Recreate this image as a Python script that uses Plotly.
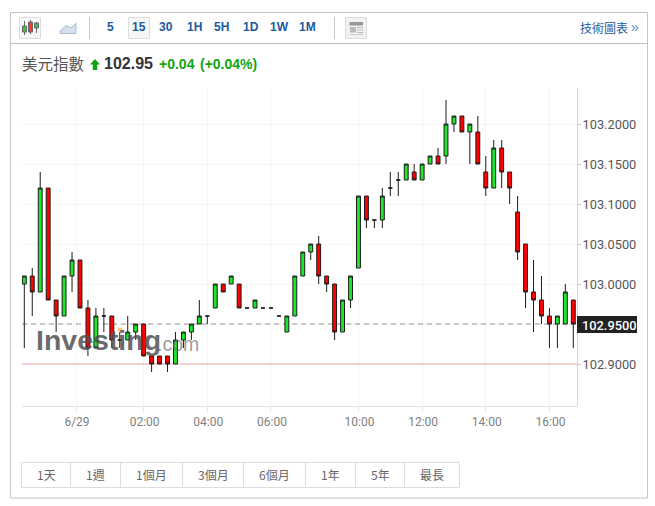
import plotly.graph_objects as go

W, H = 655, 506
L, R, T, B = 22, 577, 88, 406

bar_index = list(range(70))
opens = [103.00,103.01,102.99,103.12,102.98,102.96,103.01,103.03,102.97,102.92,
         102.96,102.96,102.93,102.93,102.94,102.95,102.91,102.91,102.91,102.90,
         102.93,102.94,102.95,102.96,102.97,103.00,103.00,103.00,102.97,102.97,
         102.97,102.97,102.96,102.94,102.96,103.01,103.04,103.05,103.01,103.00,
         102.94,102.98,103.02,103.11,103.08,103.08,103.12,103.13,103.13,103.14,
         103.13,103.15,103.16,103.16,103.20,103.21,103.19,103.19,103.14,103.12,
         103.17,103.14,103.09,103.05,102.99,102.98,102.96,102.95,102.95,102.98]
closes = [103.01,102.99,103.12,102.98,102.96,103.01,103.03,102.97,102.92,102.96,
          102.96,102.93,102.93,102.94,102.95,102.91,102.90,102.90,102.90,102.93,
          102.94,102.95,102.96,102.96,103.00,102.99,103.01,102.97,102.97,102.98,
          102.97,102.97,102.96,102.96,103.01,103.04,103.05,103.01,103.00,102.94,
          102.98,103.01,103.11,103.08,103.08,103.11,103.12,103.13,103.15,103.13,
          103.15,103.16,103.15,103.20,103.21,103.19,103.20,103.15,103.12,103.17,
          103.14,103.12,103.04,102.99,102.98,102.96,102.95,102.96,102.99,102.95]
highs = [103.01,103.02,103.14,103.12,102.98,103.01,103.04,103.03,102.98,102.97,
         102.97,102.96,102.94,102.96,102.95,102.95,102.91,102.91,102.91,102.94,
         102.94,102.95,102.98,102.96,103.00,103.00,103.01,103.00,102.97,102.98,
         102.97,102.97,102.96,102.96,103.01,103.04,103.05,103.06,103.01,103.00,
         102.98,103.01,103.11,103.11,103.08,103.12,103.14,103.14,103.15,103.15,
         103.15,103.16,103.17,103.23,103.21,103.21,103.20,103.21,103.16,103.18,
         103.18,103.14,103.11,103.05,103.03,103.01,102.97,102.96,103.00,102.98]
lows = [102.92,102.96,102.99,102.98,102.94,102.96,102.99,102.97,102.91,102.92,
        102.94,102.92,102.92,102.93,102.93,102.91,102.89,102.90,102.89,102.90,
        102.92,102.93,102.95,102.95,102.97,102.99,103.00,102.97,102.97,102.97,
        102.97,102.97,102.96,102.94,102.96,103.01,103.03,103.00,102.99,102.93,
        102.94,102.97,103.02,103.07,103.07,103.07,103.11,103.11,103.13,103.13,
        103.13,103.15,103.15,103.15,103.19,103.19,103.15,103.15,103.11,103.12,
        103.12,103.10,103.03,102.97,102.94,102.95,102.92,102.92,102.95,102.92]

x_tick_vals = [6.5, 15, 23, 31, 42, 50, 58, 66]
x_tick_labels = ["6/29", "02:00", "04:00", "06:00", "10:00", "12:00", "14:00", "16:00"]
y_tick_vals = [102.90, 102.95, 103.00, 103.05, 103.10, 103.15, 103.20]
y_tick_labels = ["102.9000", "", "103.0000", "103.0500", "103.1000", "103.1500", "103.2000"]
last_price = 102.95
low_line = 102.90
intervals = ["5", "15", "30", "1H", "5H", "1D", "1W", "1M"]
ranges = ["1天", "1週", "1個月", "3個月", "6個月", "1年", "5年", "最長"]

CJK = "Noto Sans CJK TC"
ARIAL = "Liberation Sans"
TICK = "Roboto"
BLUE = "#1b5a9f"
GRID = "rgba(110,110,150,0.07)"


def px(x):
    return x / W


def py(y):
    return 1 - y / H


shapes = []
annotations = []


def rect(x0, y0, x1, y1, fill=None, line=None, lw=1):
    shapes.append(dict(type="rect", xref="paper", yref="paper", x0=px(x0), x1=px(x1), y0=py(y0), y1=py(y1),
                       fillcolor=fill or "rgba(0,0,0,0)",
                       line=dict(color=line or "rgba(0,0,0,0)", width=lw if line else 0), layer="above"))


def seg(x0, y0, x1, y1, color, lw=1):
    shapes.append(dict(type="line", xref="paper", yref="paper", x0=px(x0), x1=px(x1), y0=py(y0), y1=py(y1),
                       line=dict(color=color, width=lw), layer="above"))


def poly(points, fill, line=None):
    d = "M" + " L".join(f"{px(a):.5f},{py(b):.5f}" for a, b in points) + " Z"
    shapes.append(dict(type="path", xref="paper", yref="paper", path=d, fillcolor=fill,
                       line=dict(color=line or "rgba(0,0,0,0)", width=1 if line else 0), layer="above"))


def text(x, y, s, size, color, font=ARIAL, anchor="center", bg=None):
    a = dict(xref="paper", yref="paper", x=px(x), y=py(y), text=s, showarrow=False,
             xanchor=anchor, yanchor="middle", borderpad=0, borderwidth=0,
             font=dict(family=font, size=size, color=color))
    if bg:
        a["bgcolor"] = bg
    annotations.append(a)


# outer frame and toolbar
rect(10.5, 12.5, 647.5, 498, None, "#c4c4c4")
seg(10.5, 43.5, 647.5, 43.5, "#bdbdbd")
seg(89.5, 17, 89.5, 39, "#cccccc")
seg(334.5, 17, 334.5, 39, "#cccccc")

# candle icon
rect(19.5, 17.5, 40.5, 38.5, "#f7f7f7", "#dddddd")
for cx, wt, wb, bt, bb, col in [(24.5, 21, 35, 26, 32, "#3fc24a"), (30.5, 20, 34, 22, 32, "#f03a3a"), (36.5, 22, 33, 23, 28, "#3fc24a")]:
    seg(cx, wt, cx, wb, "#666666")
    rect(cx - 2, bt, cx + 2, bb, col, "#666666")

# line icon
poly([(60, 31), (66, 25.5), (71, 28), (76, 23), (76, 33.5), (60, 33.5)], "#d5e0ee", "#a9bfd8")

# selected interval
rect(128.5, 17.5, 149.5, 38.5, "#f6f6f6", "#dddddd")
for cx, lab in zip([110.7, 139, 166, 194, 222, 250.5, 279, 307], intervals):
    text(cx, 27, f"<b>{lab}</b>", 12, BLUE)

# layout icon
rect(345.5, 17.5, 366.5, 38.5, "#f1f1f1", "#dddddd")
rect(349.5, 22, 363, 25.5, "#999999")
rect(350, 27, 356, 32.5, "#bbbbbb")
for yy in (27.5, 30, 32.5):
    seg(357, yy, 363, yy, "#bbbbbb")
rect(349.5, 34, 363, 35, "#cccccc")

text(628, 27, "技術圖表", 12, BLUE, CJK, "right")
text(634.5, 27, "»", 14, "#5a8bc4", ARIAL)

# header
text(22, 63, "美元指數", 15.5, "#555555", CJK, "left")
poly([(95, 59), (100, 64.5), (97.2, 64.5), (97.2, 70), (92.8, 70), (92.8, 64.5), (90, 64.5)], "#12a312")
text(104, 63.5, "<b>102.95</b>", 16, "#333333", ARIAL, "left")
text(159, 64, "<b>+0.04</b>", 14, "#12a312", ARIAL, "left")
text(200, 64, "<b>(+0.04%)</b>", 14, "#12a312", ARIAL, "left")

# range buttons
edges = [21.5, 70.5, 120.5, 182.5, 243.5, 305.5, 355.5, 404.5, 459.5]
rect(edges[0], 462.5, edges[-1], 487.5, None, "#dddddd")
for e in edges[1:-1]:
    seg(e, 462.5, e, 487.5, "#dddddd")
for a, b, lab in zip(edges[:-1], edges[1:], ranges):
    text((a + b) / 2, 474.5, lab, 12, "#666666", CJK)

# watermark
text(36, 340, "<b>Investing</b>", 28.5, "rgba(80,80,80,0.85)", ARIAL, "left")
text(157, 344, ".com", 19.5, "rgba(110,110,110,0.7)", ARIAL, "left")
rect(117.5, 327.5, 122.5, 331.5, "rgba(255,190,90,0.75)")

# price lines
shapes.append(dict(type="line", xref="x domain", yref="y", x0=0, x1=1, y0=low_line, y1=low_line,
                   line=dict(color="#fcd0d0", width=2), layer="below"))
shapes.append(dict(type="line", xref="x domain", yref="y", x0=0, x1=1, y0=last_price, y1=last_price,
                   line=dict(color="#999999", width=1, dash="5px,4px"), layer="below"))

# last price tag
rect(577, 316, 637, 333, "#222222")
text(608.5, 325, "102.9500", 12.8, "#ffffff", TICK)
annotations[-1]["font"]["weight"] = 500

candles = go.Candlestick(
    x=bar_index, open=opens, high=highs, low=lows, close=closes,
    increasing=dict(fillcolor="#1fe62a", line=dict(color="#1c1c1c", width=1)),
    decreasing=dict(fillcolor="#ff0000", line=dict(color="#1c1c1c", width=1)),
    whiskerwidth=0, hoverinfo="skip",
)

s = (573.3 - 24.3) / 69
fig = go.Figure(candles)
fig.update_layout(
    width=W, height=H, autosize=False,
    margin=dict(l=0, r=0, t=0, b=0),
    paper_bgcolor="white", plot_bgcolor="white",
    showlegend=False, boxgap=0.3,
    shapes=shapes, annotations=annotations,
    xaxis=dict(
        domain=[px(L), px(R)],
        range=[(L - 24.3) / s, (R - 24.3) / s],
        rangeslider=dict(visible=False),
        tickmode="array", tickvals=x_tick_vals, ticktext=x_tick_labels,
        showgrid=True, gridcolor=GRID, gridwidth=1,
        zeroline=False, showline=True, linecolor="#e2e2ea", linewidth=1,
        ticks="outside", ticklen=6, tickcolor="#e8e8ee", tickwidth=1,
        tickfont=dict(family=TICK, size=12, color="#808080"),
        ticklabelstandoff=-1, ticklabelshift=1,
        anchor="y",
    ),
    yaxis=dict(
        domain=[py(B), py(T)],
        range=[102.9 + (364 - B) / 800, 102.9 + (364 - T) / 800],
        side="right",
        tickmode="array", tickvals=y_tick_vals, ticktext=y_tick_labels,
        showgrid=True, gridcolor=GRID, gridwidth=1,
        zeroline=False, showline=True, linecolor="#d4d4dc", linewidth=1,
        ticks="outside", ticklen=3, tickcolor="#c8c8d0", tickwidth=1,
        tickfont=dict(family=TICK, size=12.8, color="#555555"),
        ticklabelstandoff=-1, ticklabelshift=1,
        anchor="x",
    ),
)
fig.write_html("out.html", config=dict(displayModeBar=False),
               post_script="document.body.style.margin='0';document.body.style.overflow='hidden';")
